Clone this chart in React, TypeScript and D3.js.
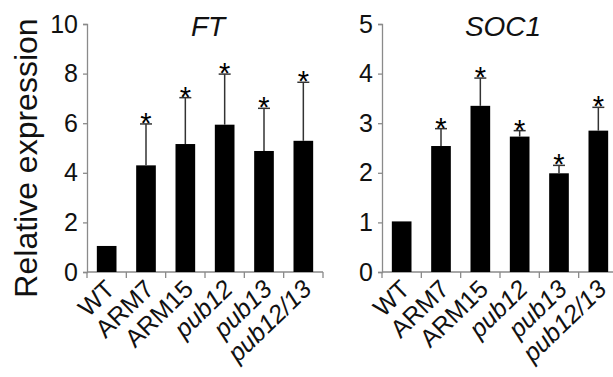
import React, { useEffect, useRef } from "react";
import * as d3 from "d3";

// genotypes on the x axis
const genotypes = ["WT", "ARM7", "ARM15", "pub12", "pub13", "pub12/13"];
const italicLabels = ["pub12", "pub13", "pub12/13"];

// FT panel
const ftMeans = [1.05, 4.3, 5.16, 5.94, 4.88, 5.29];
const ftErrors = [0, 1.67, 1.87, 2.04, 1.72, 2.36];
const ftTicks = [0, 2, 4, 6, 8, 10];

// SOC1 panel
const socMeans = [1.02, 2.54, 3.35, 2.73, 1.99, 2.85];
const socErrors = [0, 0.35, 0.56, 0.12, 0.16, 0.47];
const socTicks = [0, 1, 2, 3, 4, 5];

const significant = [false, true, true, true, true, true];

const font = "Arial, 'Liberation Sans', sans-serif";

const App = () => {
  const svgRef = useRef<SVGSVGElement>(null);

  useEffect(() => {
    const svg = d3.select(svgRef.current);
    svg.selectAll("*").remove();

    const top = 24;
    const bottom = 272;

    const drawPanel = (
      left: number,
      right: number,
      title: string,
      means: number[],
      errors: number[],
      ticks: number[]
    ) => {
      const g = svg.append("g");

      const x = d3
        .scaleBand()
        .domain(genotypes)
        .range([left, right])
        .paddingInner(0.5)
        .paddingOuter(0.25);

      const y = d3
        .scaleLinear()
        .domain([0, ticks[ticks.length - 1]])
        .range([bottom, top]);

      // y axis
      const yAxis = g
        .append("g")
        .attr("transform", `translate(${left},0)`)
        .call(
          d3
            .axisLeft(y)
            .tickValues(ticks)
            .tickFormat(d3.format("d"))
            .tickSize(4)
            .tickPadding(5)
        );
      yAxis.select(".domain").attr("stroke", "#8a8a8a").attr("stroke-width", 1.3);
      yAxis.selectAll(".tick line").attr("stroke", "#8a8a8a").attr("stroke-width", 1.3);
      yAxis
        .selectAll(".tick text")
        .attr("font-family", font)
        .attr("font-size", 25)
        .attr("fill", "#111");

      // x axis line and ticks at band edges
      const edges = genotypes.map((d) => x(d)! - (x.step() - x.bandwidth()) / 2);
      edges.push(right);
      g.append("line")
        .attr("x1", left)
        .attr("x2", right)
        .attr("y1", bottom)
        .attr("y2", bottom)
        .attr("stroke", "#8a8a8a")
        .attr("stroke-width", 1.3);
      g.selectAll(".xtick")
        .data(edges)
        .enter()
        .append("line")
        .attr("x1", (d) => d)
        .attr("x2", (d) => d)
        .attr("y1", bottom)
        .attr("y2", bottom + 6)
        .attr("stroke", "#8a8a8a")
        .attr("stroke-width", 1.3);

      // bars
      g.selectAll(".bar")
        .data(means)
        .enter()
        .append("rect")
        .attr("x", (d, i) => x(genotypes[i])!)
        .attr("y", (d) => y(d))
        .attr("width", x.bandwidth())
        .attr("height", (d) => bottom - y(d))
        .attr("fill", "#000");

      // error bars
      const cx = (i: number) => x(genotypes[i])! + x.bandwidth() / 2;
      const withErr = means.map((m, i) => ({ m, e: errors[i], i })).filter((d) => d.e > 0);
      g.selectAll(".err")
        .data(withErr)
        .enter()
        .append("line")
        .attr("x1", (d) => cx(d.i))
        .attr("x2", (d) => cx(d.i))
        .attr("y1", (d) => y(d.m))
        .attr("y2", (d) => y(d.m + d.e))
        .attr("stroke", "#333")
        .attr("stroke-width", 1.5);
      g.selectAll(".cap")
        .data(withErr)
        .enter()
        .append("line")
        .attr("x1", (d) => cx(d.i) - 6)
        .attr("x2", (d) => cx(d.i) + 6)
        .attr("y1", (d) => y(d.m + d.e))
        .attr("y2", (d) => y(d.m + d.e))
        .attr("stroke", "#333")
        .attr("stroke-width", 1.5);

      // asterisks
      g.selectAll(".star")
        .data(withErr.filter((d) => significant[d.i]))
        .enter()
        .append("text")
        .attr("x", (d) => cx(d.i))
        .attr("y", (d) => y(d.m + d.e) + 9)
        .attr("text-anchor", "middle")
        .attr("font-family", font)
        .attr("font-size", 29)
        .attr("fill", "#000")
        .text("*");

      // x labels, rotated
      g.selectAll(".xlabel")
        .data(genotypes)
        .enter()
        .append("text")
        .attr(
          "transform",
          (d) => `translate(${x(d)! + x.bandwidth() / 2},${bottom + 9}) rotate(-44)`
        )
        .attr("text-anchor", "end")
        .attr("dy", "0.55em")
        .attr("font-family", font)
        .attr("font-size", 25)
        .attr("font-style", (d) => (italicLabels.includes(d) ? "italic" : "normal"))
        .attr("fill", "#111")
        .text((d) => d);

      // title
      g.append("text")
        .attr("x", (left + right) / 2 + 3)
        .attr("y", 36)
        .attr("text-anchor", "middle")
        .attr("font-family", font)
        .attr("font-size", 28)
        .attr("font-style", "italic")
        .attr("fill", "#111")
        .text(title);
    };

    drawPanel(87, 323, "FT", ftMeans, ftErrors, ftTicks);
    drawPanel(382, 618, "SOC1", socMeans, socErrors, socTicks);

    // y axis title
    svg
      .append("text")
      .attr("transform", `translate(37,158) rotate(-90)`)
      .attr("text-anchor", "middle")
      .attr("font-family", font)
      .attr("font-size", 32)
      .attr("fill", "#111")
      .text("Relative expression");
  }, []);

  return (
    <svg
      ref={svgRef}
      width={613}
      height={377}
      style={{ position: "absolute", left: 0, top: 0, background: "#fff" }}
    ></svg>
  );
};

export default App;
